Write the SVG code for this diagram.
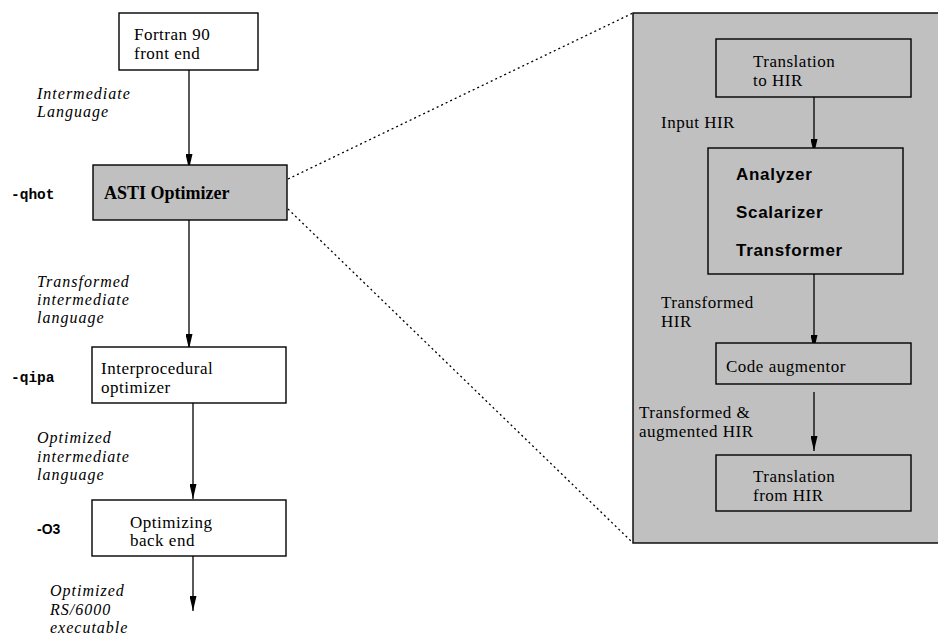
<svg xmlns="http://www.w3.org/2000/svg" width="938" height="638" viewBox="0 0 938 638">
<style>
.box{stroke:#000;stroke-width:1.4;fill:#fff}
.g{fill:#c0c0c0}
.t{font-family:"Liberation Serif",serif;font-size:17px;letter-spacing:0.5px;fill:#000}
.i{font-family:"Liberation Serif",serif;font-size:16px;letter-spacing:1px;font-style:italic;fill:#000}
.b{font-family:"Liberation Serif",serif;font-size:18px;font-weight:bold;fill:#000}
.s{font-family:"Liberation Sans",sans-serif;font-size:17px;letter-spacing:0.7px;font-weight:bold;fill:#000}
.m{font-family:"Liberation Mono",monospace;font-size:14.5px;font-weight:bold;fill:#000}
.ms{font-family:"Liberation Sans",sans-serif;font-size:14px;font-weight:bold;fill:#000}
.c{stroke:#000;stroke-width:1.3;fill:none}
.d{stroke:#000;stroke-width:1.3;fill:none;stroke-dasharray:2 3}
</style>
<defs>
<marker id="ah" viewBox="0 0 15 7" refX="15" refY="3.5" markerWidth="15" markerHeight="7" markerUnits="userSpaceOnUse" orient="auto">
<path d="M0,0 L15,3.5 L0,7 Z" fill="#000"/>
</marker>
</defs>
<g id="panel">
<rect x="633" y="13" width="320" height="530" class="box g"/>
</g>
<g id="connectors">
<line x1="189" y1="70" x2="189" y2="169" class="c" marker-end="url(#ah)"/>
<line x1="189" y1="220" x2="189" y2="349" class="c" marker-end="url(#ah)"/>
<line x1="193" y1="403" x2="193" y2="499" class="c" marker-end="url(#ah)"/>
<line x1="193" y1="552" x2="193" y2="611" class="c" marker-end="url(#ah)"/>
<line x1="814" y1="97" x2="814" y2="154" class="c" marker-end="url(#ah)"/>
<line x1="814" y1="274" x2="814" y2="350" class="c" marker-end="url(#ah)"/>
<line x1="814" y1="392" x2="814" y2="451" class="c" marker-end="url(#ah)"/>
<line x1="288" y1="179" x2="633" y2="13" class="d"/>
<line x1="288" y1="209" x2="633" y2="543" class="d"/>
</g>
<g id="fortran">
<rect x="119" y="13" width="139" height="57" class="box"/>
<text class="t" x="134" y="40">Fortran 90</text>
<text class="t" x="134" y="59">front end</text>
</g>
<g id="lbl-il">
<text class="i" x="37" y="99">Intermediate</text>
<text class="i" x="37" y="117">Language</text>
</g>
<g id="asti">
<rect x="93" y="165" width="194" height="55" class="box g"/>
<text class="b" x="104" y="199">ASTI Optimizer</text>
</g>
<text class="m" x="11" y="199">-qhot</text>
<g id="lbl-til">
<text class="i" x="37" y="287">Transformed</text>
<text class="i" x="37" y="305">intermediate</text>
<text class="i" x="37" y="323">language</text>
</g>
<g id="ipa">
<rect x="92" y="347" width="194" height="56" class="box"/>
<text class="t" x="101" y="374">Interprocedural</text>
<text class="t" x="101" y="393">optimizer</text>
</g>
<text class="m" x="11" y="382">-qipa</text>
<g id="lbl-oil">
<text class="i" x="37" y="443">Optimized</text>
<text class="i" x="37" y="462">intermediate</text>
<text class="i" x="37" y="480">language</text>
</g>
<g id="backend">
<rect x="92" y="500" width="194" height="56" class="box"/>
<text class="t" x="130" y="528">Optimizing</text>
<text class="t" x="130" y="546">back end</text>
</g>
<text class="ms" x="37" y="534">-O3</text>
<g id="lbl-exe">
<text class="i" x="50" y="596">Optimized</text>
<text class="i" x="50" y="615">RS/6000</text>
<text class="i" x="50" y="633">executable</text>
</g>
<g id="to-hir">
<rect x="716" y="39" width="195" height="58" class="box g"/>
<text class="t" x="753" y="67">Translation</text>
<text class="t" x="753" y="86">to HIR</text>
</g>
<text class="t" x="661" y="128">Input HIR</text>
<g id="analyzer">
<rect x="708" y="148" width="195" height="126" class="box g"/>
<text class="s" x="736" y="180">Analyzer</text>
<text class="s" x="736" y="218">Scalarizer</text>
<text class="s" x="736" y="256">Transformer</text>
</g>
<g id="lbl-thir">
<text class="t" x="661" y="308">Transformed</text>
<text class="t" x="661" y="327">HIR</text>
</g>
<g id="augmentor">
<rect x="716" y="343" width="195" height="41" class="box g"/>
<text class="t" x="726" y="372">Code augmentor</text>
</g>
<g id="lbl-tahir">
<text class="t" x="639" y="418">Transformed &amp;</text>
<text class="t" x="639" y="437">augmented HIR</text>
</g>
<g id="from-hir">
<rect x="716" y="455" width="195" height="56" class="box g"/>
<text class="t" x="753" y="482">Translation</text>
<text class="t" x="753" y="501">from HIR</text>
</g>
</svg>
